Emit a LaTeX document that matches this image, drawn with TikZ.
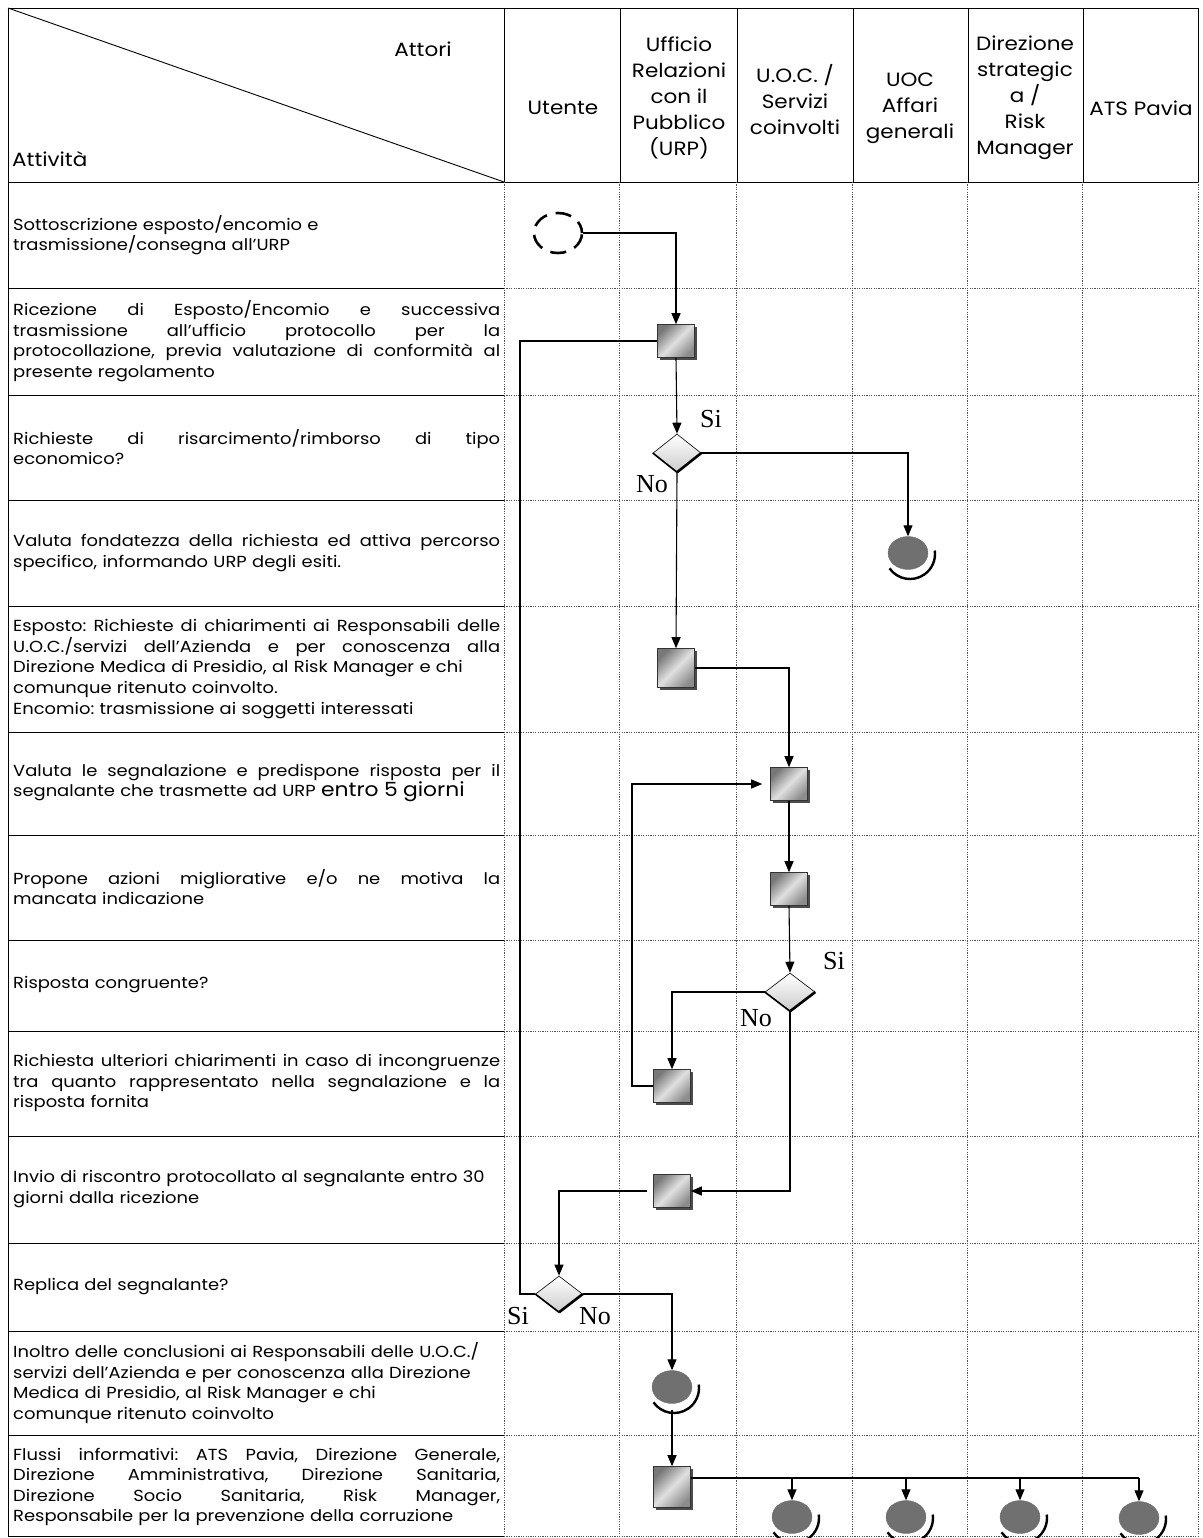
\documentclass[tikz,border=0pt]{standalone}
\usepackage{fontspec}
\setmainfont{Poppins}[FakeStretch=1.12]
\newfontfamily\sinofont{Liberation Serif}
\usetikzlibrary{positioning, arrows.meta, shapes.geometric, shadows, calc}
\definecolor{endgray}{HTML}{707070}
\definecolor{boxdark}{HTML}{787878}
\definecolor{boxlight}{HTML}{E0E0E0}
\definecolor{dotgray}{HTML}{505050}
\setlength{\parindent}{0pt}
\frenchspacing
\newlength{\actw}\setlength{\actw}{487pt}
% one justified line, spread to the full column width
\newcommand{\jl}[1]{\leavevmode\hbox to \actw{\spaceskip=.3em plus 1fil minus .22em\relax #1}}
\newcommand{\actfont}{\fontsize{16}{20.6}\selectfont}
\newcommand{\hdrfont}{\fontsize{19.2}{26}\selectfont}

\tikzset{
  cellline/.style={line width=0.9pt},
  gridline/.style={line width=0.8pt, dotgray, dash pattern=on 1.2pt off 1.2pt},
  act/.style={anchor=west, text width=\actw, align=left, inner sep=0pt, font=\actfont},
  hdr/.style={align=center, inner sep=0pt, font=\hdrfont},
  taskbox/.style={rectangle, minimum width=37pt, minimum height=33pt, inner sep=0pt,
    draw=black!80, line width=0.6pt, top color=boxdark, bottom color=boxdark!85,
    middle color=boxlight, shading angle=45,
    drop shadow={shadow xshift=2pt, shadow yshift=-2pt, fill=black!70, opacity=1}},
  choicebox/.style={diamond, minimum width=48pt, minimum height=38pt, inner sep=0pt,
    draw, line width=0.6pt, top color=white, bottom color=black!20},
  endmark/.style={ellipse, minimum width=40pt, minimum height=33pt, inner sep=0pt,
    fill=endgray, draw=black!55},
  startmark/.style={ellipse, minimum width=48pt, minimum height=40pt, inner sep=0pt,
    draw, line width=2.6pt, dash pattern=on 16pt off 9pt, dash phase=4pt},
  flow/.style={line width=1.1pt, -{Triangle[length=11pt, width=9pt]}},
  link/.style={line width=1.1pt},
  yesno/.style={inner sep=0pt, font=\sinofont\fontsize{26}{26}\selectfont},
}

\begin{document}
\begin{tikzpicture}[x=1pt, y=-1pt]
\useasboundingbox (0,0) rectangle (1202,1538);

% header
\draw[cellline] (8,8) rectangle (1198,182);
\draw[cellline] (8,8) -- (504,182);
\foreach \x in {504,620,737,853,968,1083}
  \draw[cellline] (\x,8) -- (\x,182);
\node[inner sep=0pt] (hattori) at (423,49) {\hdrfont Attori};
\node[anchor=west, inner sep=0pt] (hattiv) at (12,159) {\hdrfont Attività};
\node[hdr] (hutente) at (563,108) {Utente};
\node[hdr] (hurp) at (679,98) {Ufficio\\Relazioni\\con il\\Pubblico\\(URP)};
\node[hdr] (huoc) at (795,100) {U.O.C. /\\Servizi\\coinvolti};
\node[hdr] (haffari) at (910,108) {UOC\\Affari\\generali};
\node[hdr] (hdir) at (1025,98) {Direzione\\strategic\\a /\\Risk\\Manager};
\node[hdr] (hats) at (1141,108) {ATS Pavia};

% body grid
\draw[cellline] (8,182) -- (8,1536);
\foreach \y in {288,395,500,606,732,835,940,1031,1136,1243,1331,1435,1536} {
  \draw[cellline] (8,\y) -- (504,\y);
  \draw[gridline] (504,\y) -- (1198,\y);
}
\foreach \x in {504,619,736,852,967,1082,1198}
  \draw[gridline] (\x,182) -- (\x,1536);

% activities
\node[act] (a1) at (13,235) {Sottoscrizione esposto/encomio e\\trasmissione/consegna all'URP};
\node[act] (a2) at (13,341) {\jl{Ricezione di Esposto/Encomio e successiva}\\
  \jl{trasmissione all'ufficio protocollo per la}\\
  \jl{protocollazione, previa valutazione di conformità al}\\presente regolamento};
\node[act] (a3) at (13,447) {\jl{Richieste di risarcimento/rimborso di tipo}\\economico?};
\node[act] (a4) at (13,553) {\jl{Valuta fondatezza della richiesta ed attiva percorso}\\
  specifico, informando URP degli esiti.};
\node[act] (a5) at (13,669) {\jl{Esposto: Richieste di chiarimenti ai Responsabili delle}\\
  \jl{U.O.C./servizi dell'Azienda e per conoscenza alla}\\
  Direzione Medica di Presidio, al Risk Manager e chi\\
  comunque ritenuto coinvolto.\\Encomio: trasmissione ai soggetti interessati};
\node[act] (a6) at (13,783) {\jl{Valuta le segnalazione e predispone risposta per il}\\
  segnalante che trasmette ad URP {\fontsize{19.5}{20}\selectfont entro 5 giorni}};
\node[act] (a7) at (13,887) {\jl{Propone azioni migliorative e/o ne motiva la}\\mancata indicazione};
\node[act] (a8) at (13,985) {Risposta congruente?};
\node[act] (a9) at (13,1083) {\jl{Richiesta ulteriori chiarimenti in caso di incongruenze}\\
  \jl{tra quanto rappresentato nella segnalazione e la}\\risposta fornita};
\node[act] (a10) at (13,1189) {Invio di riscontro protocollato al segnalante entro 30\\
  giorni dalla ricezione};
\node[act] (a11) at (13,1287) {Replica del segnalante?};
\node[act] (a12) at (13,1383) {Inoltro delle conclusioni ai Responsabili delle U.O.C./\\
  servizi dell'Azienda e per conoscenza alla Direzione\\
  Medica di Presidio, al Risk Manager e chi\\comunque ritenuto coinvolto};
\node[act] (a13) at (13,1487) {\jl{Flussi informativi: ATS Pavia, Direzione Generale,}\\
  \jl{Direzione Amministrativa, Direzione Sanitaria,}\\
  \jl{Direzione Socio Sanitaria, Risk Manager,}\\
  Responsabile per la prevenzione della corruzione};

% flow
\node[startmark] (start) at (558,233) {};
\node[taskbox] (ric) at (676,341) {};
\node[choicebox] (qrisarc) at (677,453) {};
\node[endmark] (endrisarc) at (908,553) {};
\node[taskbox, minimum height=39pt] (chiar) at (676,668) {};
\node[taskbox] (valuta) at (789,784) {};
\node[taskbox] (propone) at (789,889) {};
\node[choicebox, minimum width=50pt] (qcongr) at (790,992) {};
\node[taskbox] (ulter) at (672,1086) {};
\node[taskbox] (invio) at (672,1191) {};
\node[choicebox, minimum width=47pt, minimum height=36pt] (qreplica) at (559,1294) {};
\node[endmark] (endinoltro) at (672,1387) {};
\node[taskbox, minimum height=41pt] (flussi) at (672,1487) {};
\node[endmark] (endf1) at (792,1517) {};
\node[endmark] (endf2) at (906,1517) {};
\node[endmark] (endf3) at (1020,1517) {};
\node[endmark] (endf4) at (1139,1518) {};

\foreach \q in {qrisarc,qcongr,qreplica} {
  \draw[line width=1.6pt] (\q.west) -- (\q.south);
  \draw[line width=2.6pt] (\q.south) -- (\q.east);
}
\foreach \e in {endrisarc,endinoltro,endf1,endf2,endf3,endf4}
  \draw[line width=2.4pt] ([shift={(2pt,-1pt)}]\e.center) ++(215:25pt)
    arc[start angle=215, end angle=368, radius=25pt];

\node[yesno] (si1) at (711,419) {Si};
\node[yesno] (no1) at (652,484) {No};
\node[yesno] (si2) at (834,961) {Si};
\node[yesno] (no2) at (756,1018) {No};
\node[yesno] (si3) at (518,1316) {Si};
\node[yesno] (no3) at (595,1316) {No};

\coordinate (back) at (632,784);
\coordinate (loop) at (520,1294);
\coordinate (fan) at ([yshift=9pt]flussi.east);

\draw[flow] (start.east) -| (ric.north);
\draw[flow] (ric.south) -- (qrisarc.north);
\draw[flow] (qrisarc.east) -| (endrisarc.north);
\draw[flow] (qrisarc.south) -- (chiar.north);
\draw[flow] (chiar.east) -| (valuta.north);
\draw[flow] (valuta.south) -- (propone.north);
\draw[flow] (propone.south) -- (qcongr.north);
\draw[flow] (qcongr.west) -| (ulter.north);
\draw[flow, shorten >=8pt] (ulter.west) -| (back) -- (valuta.west);
\draw[flow] (qcongr.south) |- (invio.east);
\draw[flow, shorten <=6pt] (invio.west) -| (qreplica.north);
\draw[link] (qreplica.west) -- (loop) |- (ric.west);
\draw[flow] (qreplica.east) -| (endinoltro.north);
\draw[flow, shorten <=6pt] (endinoltro.south) -- (flussi.north);
\draw[link] (fan) -- (fan -| endf4.north);
\foreach \e in {endf1,endf2,endf3,endf4}
  \draw[flow] (fan -| \e.north) -- (\e.north);
\end{tikzpicture}
\end{document}
